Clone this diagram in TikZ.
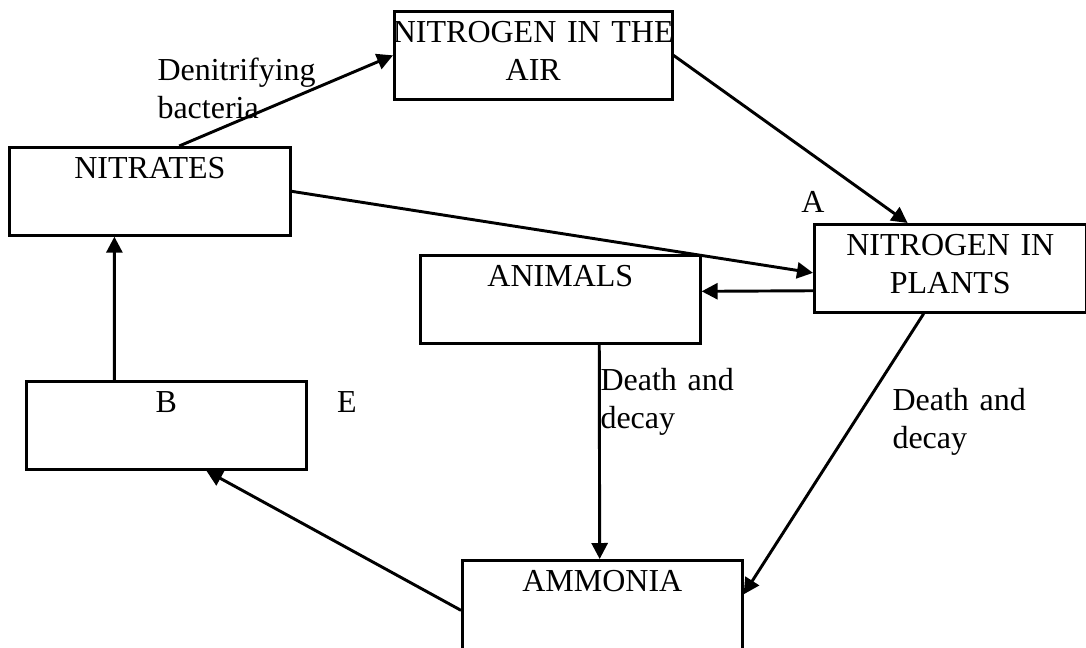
\documentclass[tikz,border=0pt]{standalone}
\usepackage{fontspec}
\setmainfont{Liberation Serif}
\usetikzlibrary{arrows.meta}
\tikzset{
  stage/.style={draw, line width=1pt, inner sep=0pt, anchor=north west, align=center,
    text height=11.6pt, text depth=21.4pt},
  note/.style={inner sep=0pt, anchor=base west, align=left},
  flow/.style={-{Triangle[length=6pt,width=6pt]}, line width=1.1pt}
}
\begin{document}
\begin{tikzpicture}[x=0.375pt, y=-0.375pt, font=\fontsize{12}{14.25}\selectfont]
  \useasboundingbox (0,0) rectangle (1086,647);

  \node[stage, text width=112pt, inner xsep=-3.9pt] (air) at (393,10) {NITROGEN IN THE\\AIR};
  \node[stage, text width=105.4pt] (nitrates) at (8,146) {NITRATES};
  \node[stage, text width=102pt] (plants) at (813,223) {NITROGEN IN\\PLANTS};
  \node[stage, text width=105pt] (animals) at (419,254) {ANIMALS};
  \node[stage, text width=105pt] (b) at (25,380) {B};
  \node[stage, text width=105pt, text depth=22.4pt] (ammonia) at (461,559) {AMMONIA};

  \node[note, text width=62pt] (denit) at (157,80) {Denitrifying\\bacteria};
  \node[note, anchor=base] (a) at (813,212) {A};
  \node[note, anchor=base] (e) at (347,412) {E};
  \node[note, text width=62pt] (decay1) at (600,390) {Death and\\decay};
  \node[note, text width=62pt] (decay2) at (892,410) {Death and\\decay};

  \draw[flow] ([xshift=11pt]nitrates.north) -- (air.west);
  \draw[flow] (air.east) -- ([xshift=-16pt]plants.north);
  \draw[flow] (nitrates.east) -- ([yshift=-1.7pt]plants.west);
  \draw[flow] ([yshift=-8.4pt]plants.west) -- ([yshift=3pt]animals.east);
  \draw[flow] ([xshift=14.6pt]animals.south) -- ([xshift=-1pt]ammonia.north);
  \draw[flow] ([xshift=-10pt]plants.south) -- ([yshift=4.25pt]ammonia.east);
  \draw[flow] ([yshift=-1.75pt]ammonia.west) -- ([xshift=15pt]b.south);
  \draw[flow] ([xshift=-19.5pt]b.north) -- ([xshift=-13.3pt]nitrates.south);
\end{tikzpicture}
\end{document}
